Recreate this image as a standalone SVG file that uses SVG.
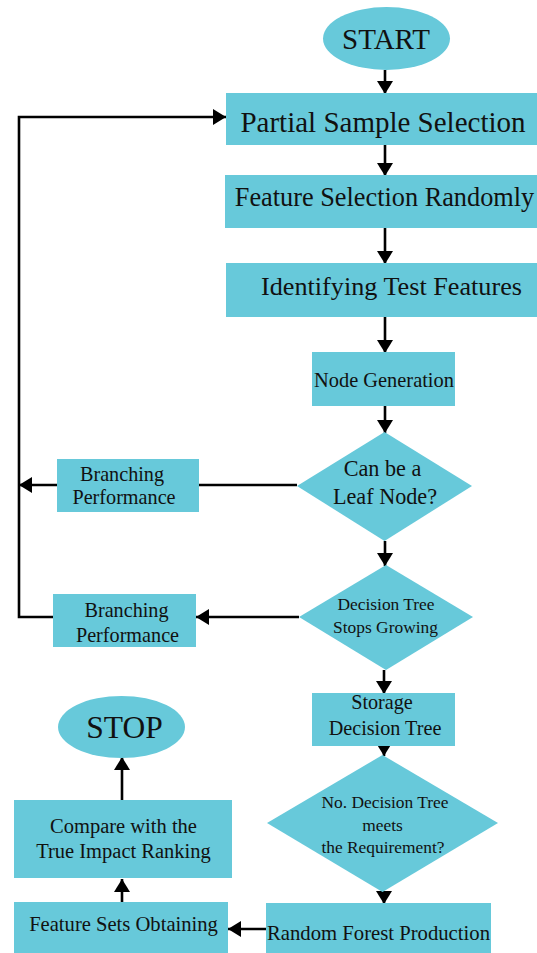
<svg xmlns="http://www.w3.org/2000/svg" width="537" height="953" viewBox="0 0 537 953">
  <style>
    .shape { fill: #67c9da; stroke: none; }
    .lbl { font-family: "Liberation Serif", "Times New Roman", serif; fill: #111; text-anchor: middle; }
    .wire { fill: none; stroke: #000; stroke-width: 2.6; }
    .arrow { marker-end: url(#head); }
  </style>
  <defs>
    <marker id="head" markerUnits="userSpaceOnUse" markerWidth="16" markerHeight="16" refX="13" refY="8" orient="auto">
      <path d="M0,0 L13,8 L0,16 Z" fill="#000"/>
    </marker>
  </defs>

  <rect width="537" height="953" fill="#fff"/>

  <g id="connectors">
    <line class="wire arrow" x1="385" y1="70" x2="385" y2="94"/>
    <line class="wire arrow" x1="385" y1="145" x2="385" y2="176"/>
    <line class="wire arrow" x1="385" y1="228" x2="385" y2="264"/>
    <line class="wire arrow" x1="385" y1="317" x2="385" y2="353"/>
    <line class="wire arrow" x1="385" y1="406" x2="385" y2="433"/>
    <line class="wire" x1="297" y1="485" x2="199" y2="485"/>
    <line class="wire arrow" x1="57" y1="485" x2="19" y2="485"/>
    <line class="wire arrow" x1="385" y1="541" x2="385" y2="566"/>
    <line class="wire arrow" x1="299" y1="617" x2="196" y2="617"/>
    <polyline class="wire arrow" points="53,617 19,617 19,117 226,117"/>
    <line class="wire arrow" x1="384" y1="670" x2="384" y2="694"/>
    <line class="wire arrow" x1="384" y1="746" x2="384" y2="756"/>
    <line class="wire arrow" x1="384" y1="892" x2="384" y2="904"/>
    <line class="wire arrow" x1="266" y1="929" x2="228" y2="929"/>
    <line class="wire arrow" x1="122" y1="903" x2="122" y2="879"/>
    <line class="wire arrow" x1="122" y1="801" x2="122" y2="757"/>
  </g>

  <g id="start">
    <ellipse class="shape" cx="386.5" cy="38.5" rx="63.5" ry="31.5"/>
    <text class="lbl" x="386" y="49" font-size="29">START</text>
  </g>

  <g id="partial-sample-selection">
    <rect class="shape" x="226" y="93" width="311" height="52"/>
    <text class="lbl" x="383" y="132" font-size="29">Partial Sample Selection</text>
  </g>

  <g id="feature-selection-randomly">
    <rect class="shape" x="225" y="175" width="312" height="53"/>
    <text class="lbl" x="384.5" y="206" font-size="26.3">Feature Selection Randomly</text>
  </g>

  <g id="identifying-test-features">
    <rect class="shape" x="226" y="263" width="311" height="54"/>
    <text class="lbl" x="391.5" y="295" font-size="26.2">Identifying Test Features</text>
  </g>

  <g id="node-generation">
    <rect class="shape" x="312" y="352" width="143" height="54"/>
    <text class="lbl" x="384" y="387" font-size="20.4">Node Generation</text>
  </g>

  <g id="leaf-node-check">
    <polygon class="shape" points="384.5,432 472,486 384.5,541 297,486"/>
    <text class="lbl" font-size="22.2"><tspan x="382.5" y="476">Can be a</tspan><tspan x="385" y="504">Leaf Node?</tspan></text>
  </g>

  <g id="branching-performance-1">
    <rect class="shape" x="57" y="459" width="142" height="53"/>
    <text class="lbl" font-size="20.2"><tspan x="122" y="481">Branching</tspan><tspan x="124" y="504">Performance</tspan></text>
  </g>

  <g id="stops-growing-check">
    <polygon class="shape" points="386,565 473,617 386,670 299,617"/>
    <text class="lbl" font-size="17.4"><tspan x="386" y="610">Decision Tree</tspan><tspan x="385.5" y="633">Stops Growing</tspan></text>
  </g>

  <g id="branching-performance-2">
    <rect class="shape" x="53" y="594" width="143" height="53"/>
    <text class="lbl" font-size="20.2"><tspan x="126.5" y="617">Branching</tspan><tspan x="127.5" y="642">Performance</tspan></text>
  </g>

  <g id="storage-decision-tree">
    <rect class="shape" x="312" y="693" width="143" height="53"/>
    <text class="lbl" font-size="20.2"><tspan x="382" y="709">Storage</tspan><tspan x="385" y="735">Decision Tree</tspan></text>
  </g>

  <g id="tree-count-check">
    <polygon class="shape" points="382.5,755 498,823 382.5,892 267,823"/>
    <text class="lbl" font-size="17.4"><tspan x="385" y="808">No. Decision Tree</tspan><tspan x="382.5" y="831">meets</tspan><tspan x="383" y="853">the Requirement?</tspan></text>
  </g>

  <g id="random-forest-production">
    <rect class="shape" x="266" y="903" width="225" height="50"/>
    <text class="lbl" x="378.5" y="940" font-size="20.7">Random Forest Production</text>
  </g>

  <g id="feature-sets-obtaining">
    <rect class="shape" x="14" y="902" width="214" height="51"/>
    <text class="lbl" x="123.5" y="931" font-size="20.6">Feature Sets Obtaining</text>
  </g>

  <g id="compare-ranking">
    <rect class="shape" x="14" y="800" width="218" height="78"/>
    <text class="lbl" font-size="20.5"><tspan x="123.5" y="833">Compare with the</tspan><tspan x="123.5" y="858">True Impact Ranking</tspan></text>
  </g>

  <g id="stop">
    <ellipse class="shape" cx="121.5" cy="727" rx="63.5" ry="31"/>
    <text class="lbl" x="124.5" y="738" font-size="31.5">STOP</text>
  </g>
</svg>
